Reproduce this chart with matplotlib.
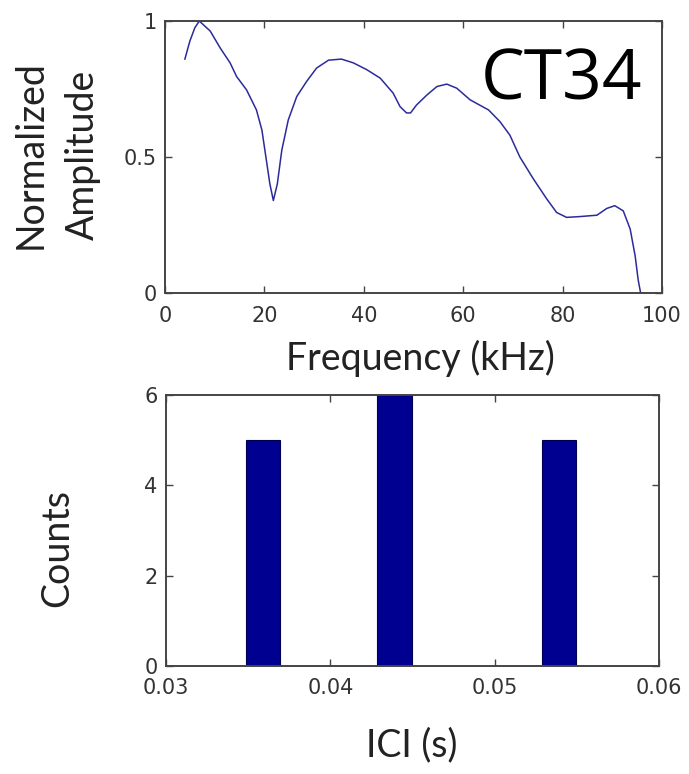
import matplotlib.pyplot as plt
import numpy as np

# spectrum
freq_khz = [4.0, 5.0, 6.0, 6.9, 9.1, 11.1, 13.1, 14.4, 16.4, 18.4, 19.5, 20.3,
            21.1, 21.8, 22.6, 23.5, 24.8, 26.5, 28.5, 30.5, 32.9, 35.5, 37.9,
            40.6, 43.3, 45.9, 47.3, 48.6, 49.4, 50.6, 52.7, 54.7, 56.7, 58.7,
            61.4, 65.1, 67.4, 69.4, 71.4, 74.1, 76.8, 78.8, 80.8, 83.5, 86.9,
            88.9, 90.5, 92.2, 93.6, 94.6, 95.2, 95.7]
amplitude = [0.860, 0.926, 0.975, 1.0, 0.963, 0.901, 0.846, 0.796, 0.747,
             0.673, 0.599, 0.500, 0.401, 0.340, 0.401, 0.525, 0.636, 0.722,
             0.778, 0.827, 0.856, 0.860, 0.846, 0.821, 0.790, 0.735, 0.685,
             0.662, 0.662, 0.691, 0.728, 0.759, 0.768, 0.753, 0.710, 0.673,
             0.630, 0.580, 0.500, 0.420, 0.346, 0.296, 0.278, 0.281, 0.286,
             0.311, 0.321, 0.302, 0.235, 0.136, 0.049, 0.0]

# ICI histogram
ici_centers = [0.0359, 0.0439, 0.0539]
ici_counts = [5, 6, 5]
bar_width = 0.0021

label_font = 'Lato'
tick_font = 'DejaVu Sans'


def style_axes(ax):
    for sp in ax.spines.values():
        sp.set_color('#444444')
        sp.set_linewidth(1.4)
    ax.tick_params(direction='in', length=5, width=1, color='#444444',
                   top=True, right=True, labelsize=15, labelcolor='#333333',
                   pad=6)
    ax.tick_params(axis='x', pad=9)
    for lab in ax.get_xticklabels() + ax.get_yticklabels():
        lab.set_family(tick_font)


W, H = 689, 774
fig = plt.figure(figsize=(W / 100, H / 100), dpi=100)

ax1 = fig.add_axes([165 / W, 1 - 293 / H, 497 / W, 272 / H])
ax1.plot(freq_khz, amplitude, color='#2b2b9c', linewidth=1.1)
ax1.set_xlim(0, 100)
ax1.set_ylim(0, 1)
ax1.set_xticks([0, 20, 40, 60, 80, 100])
ax1.set_yticks([0, 0.5, 1])
ax1.set_yticklabels(['0', '0.5', '1'])
style_axes(ax1)

ax2 = fig.add_axes([166 / W, 1 - 666 / H, 493 / W, 271 / H])
ax2.bar(ici_centers, ici_counts, width=bar_width, color='#000090',
        edgecolor='#000050', linewidth=0.8)
ax2.set_xlim(0.03, 0.06)
ax2.set_ylim(0, 6)
ax2.set_xticks([0.03, 0.04, 0.05, 0.06])
ax2.set_xticklabels(['0.03', '0.04', '0.05', '0.06'])
ax2.set_yticks([0, 2, 4, 6])
style_axes(ax2)

# labels placed in pixel positions
fig.text(57 / W, 1 - 155 / H, 'Normalized\nAmplitude', rotation=90,
         ha='center', va='center', family=label_font, fontsize=27,
         linespacing=1.55, color='#222222')
fig.text(420 / W, 1 - 358 / H, 'Frequency (kHz)', ha='center', va='center',
         family=label_font, fontsize=27, color='#222222')
fig.text(57 / W, 1 - 548 / H, 'Counts', rotation=90, ha='center',
         va='center', family=label_font, fontsize=27, color='#222222')
fig.text(412 / W, 1 - 745 / H, 'ICI (s)', ha='center', va='center',
         family=label_font, fontsize=27, color='#222222')
fig.text(642 / W, 1 - 100 / H, 'CT34', ha='right', va='baseline',
         family='Open Sans', fontsize=50, color='black')

fig.savefig('out.png', dpi=100)
